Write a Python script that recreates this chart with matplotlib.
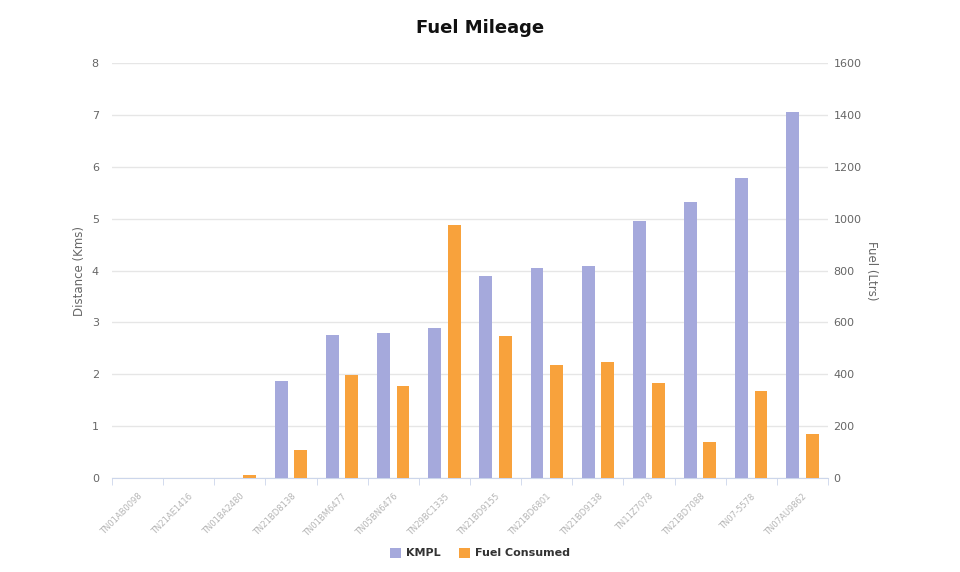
import numpy as np
import matplotlib
matplotlib.use("Agg")
import matplotlib.pyplot as plt

# vehicle ids (blurred in the source, placeholders here)
vehicles = ["TN01AB0098", "TN21AE1416", "TN01BA2480", "TN21BD8138",
            "TN01BM6477", "TN05BN6476", "TN29BC1335", "TN21BD9155",
            "TN21BD6801", "TN21BD9138", "TN11Z7078", "TN21BD7088",
            "TN07-5578", "TN07AU9862"]
kmpl = [0, 0, 0, 1.87, 2.76, 2.79, 2.89, 3.89, 4.05, 4.08, 4.95, 5.33, 5.79, 7.06]
fuel = [0, 0, 12, 108, 397, 356, 976, 548, 437, 448, 365, 139, 335, 168]

BLUE = "#a5a9dc"
ORANGE = "#f8a23c"
GRID = "#e6e6e6"
TXT = "#666666"

fig = plt.figure(figsize=(9.6, 5.72), dpi=100)
ax = fig.add_axes([112 / 960, 94 / 572, 716 / 960, 415 / 572])
ax2 = ax.twinx()

x = np.arange(len(vehicles))
w = 0.25
ax.bar(x - 0.19, kmpl, width=w, color=BLUE, zorder=3, label="KMPL")
ax2.bar(x + 0.19, fuel, width=w, color=ORANGE, zorder=3, label="Fuel Consumed")

ax.set_xlim(-0.5, len(vehicles) - 0.5)
ax.set_ylim(0, 8)
ax2.set_ylim(0, 1600)
ax.set_yticks(range(0, 9))
ax2.set_yticks(range(0, 1601, 200))

ax.grid(axis="y", color=GRID, lw=1, zorder=0)
ax.set_axisbelow(True)
for a in (ax, ax2):
    for s in ("top", "left", "right"):
        a.spines[s].set_visible(False)
    a.tick_params(axis="y", length=0, labelsize=8, labelcolor=TXT)
ax2.spines["bottom"].set_visible(False)
ax.spines["bottom"].set_color("#ccd6eb")
ax.tick_params(axis="y", pad=9.5)
ax2.tick_params(axis="y", pad=4)

ax.set_xticks(np.arange(len(vehicles) + 1) - 0.5, minor=True)
ax.set_xticks(x)
ax.set_xticklabels(vehicles, rotation=45, ha="right", rotation_mode="anchor",
                   fontsize=6, color="#b5b5b5")
ax.tick_params(axis="x", which="major", length=0, pad=10)
ax.tick_params(axis="x", which="minor", length=5, color="#ccd6eb")

ax.set_ylabel("Distance (Kms)", fontsize=8.5, color=TXT, labelpad=4)
ax2.set_ylabel("Fuel (Ltrs)", fontsize=8.5, color=TXT, rotation=270, labelpad=12)

fig.text(0.5, 1 - 28 / 572, "Fuel Mileage", ha="center", va="center",
         fontsize=13, fontweight="bold", color="#111111")

h1, l1 = ax.get_legend_handles_labels()
h2, l2 = ax2.get_legend_handles_labels()
fig.legend(h1 + h2, l1 + l2, loc="center", bbox_to_anchor=(0.5, 1 - 553 / 572),
           ncol=2, frameon=False, handlelength=1.0, handleheight=1.0,
           columnspacing=1.6, handletextpad=0.5,
           prop={"weight": "bold", "size": 8})
for t in fig.legends[0].get_texts():
    t.set_color("#333333")

fig.savefig("out.png", dpi=100, facecolor="white")
